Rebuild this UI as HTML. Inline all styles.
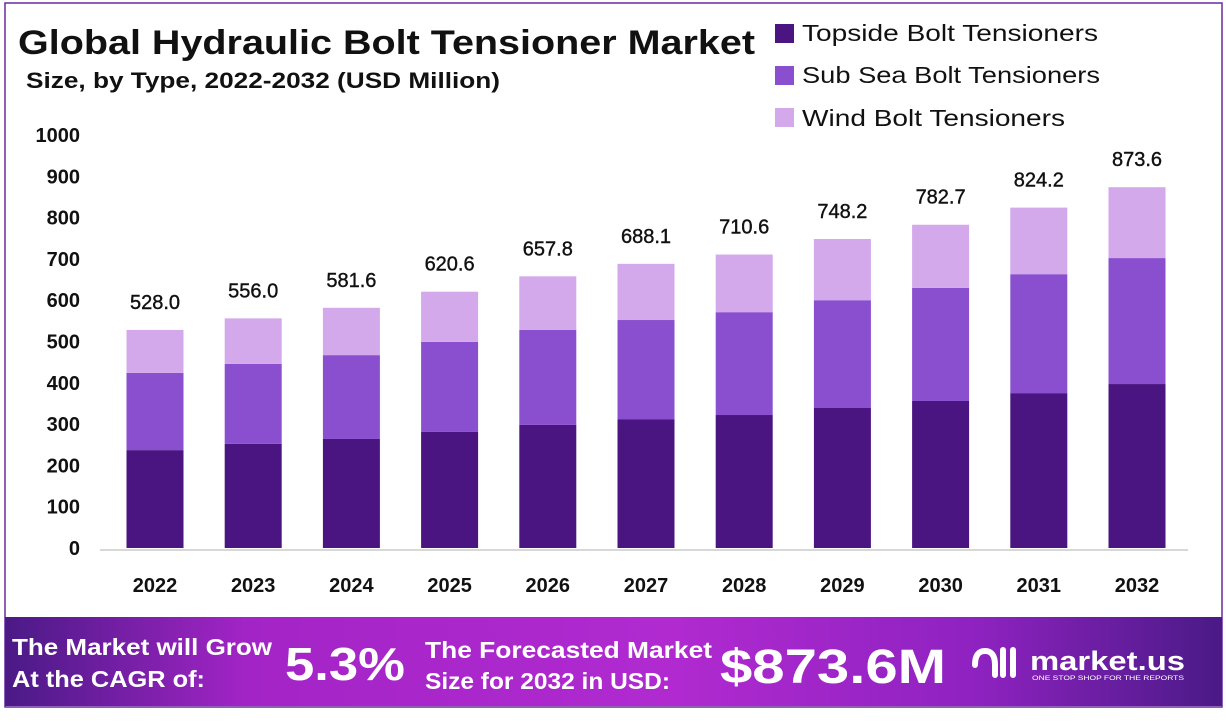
<!DOCTYPE html>
<html><head><meta charset="utf-8"><style>
html,body{margin:0;padding:0;background:#fff;}
body{width:1226px;height:718px;overflow:hidden;font-family:"Liberation Sans",sans-serif;}
text{font-family:"Liberation Sans",sans-serif;}
</style></head><body>
<svg id="c" width="1226" height="718" xmlns="http://www.w3.org/2000/svg">
<defs><linearGradient id="fg" x1="0" x2="1" y1="0" y2="0">
<stop offset="0" stop-color="#4a1a86"/><stop offset="0.2" stop-color="#a324c6"/><stop offset="0.55" stop-color="#b02ad0"/><stop offset="0.8" stop-color="#8e22c0"/><stop offset="1" stop-color="#4a1a86"/></linearGradient></defs>
<rect x="5" y="3" width="1217" height="704" fill="none" stroke="#6a2aa0" stroke-width="1.5"/>
<text x="18" y="54" font-size="34" font-weight="bold" fill="#111" textLength="737" lengthAdjust="spacingAndGlyphs">Global Hydraulic Bolt Tensioner Market</text>
<text x="26" y="88" font-size="22" fill="#111" font-weight="bold" textLength="474" lengthAdjust="spacingAndGlyphs">Size, by Type, 2022-2032 (USD Million)</text>
<g>
<rect x="775" y="24" width="19" height="19" fill="#4a1580"/>
<text x="802" y="41" font-size="23" fill="#111" textLength="296" lengthAdjust="spacingAndGlyphs">Topside Bolt Tensioners</text>
<rect x="775" y="66" width="19" height="19" fill="#8a4fcf"/>
<text x="802" y="83" font-size="23" fill="#111" textLength="298" lengthAdjust="spacingAndGlyphs">Sub Sea Bolt Tensioners</text>
<rect x="775" y="108" width="19" height="19" fill="#d3a9ec"/>
<text x="802" y="126" font-size="23" fill="#111" textLength="263" lengthAdjust="spacingAndGlyphs">Wind Bolt Tensioners</text>
</g>
<g id="plot"></g>
<rect x="5" y="617" width="1217" height="89" fill="url(#fg)"/>
<text x="12" y="655" font-size="23" font-weight="bold" fill="#fff" textLength="260" lengthAdjust="spacingAndGlyphs">The Market will Grow</text>
<text x="12" y="687" font-size="23" font-weight="bold" fill="#fff" textLength="193" lengthAdjust="spacingAndGlyphs">At the CAGR of:</text>
<text x="285" y="680" font-size="46" font-weight="bold" fill="#fff" textLength="120" lengthAdjust="spacingAndGlyphs">5.3%</text>
<text x="425" y="658" font-size="23" font-weight="bold" fill="#fff" textLength="287" lengthAdjust="spacingAndGlyphs">The Forecasted Market</text>
<text x="425" y="689" font-size="23" font-weight="bold" fill="#fff" textLength="245" lengthAdjust="spacingAndGlyphs">Size for 2032 in USD:</text>
<text x="720" y="683" font-size="48" font-weight="bold" fill="#fff" textLength="226" lengthAdjust="spacingAndGlyphs">$873.6M</text>
<g>
<path d="M975 665 q0 -14 10 -14 q10 0 10 14 v10 M1003 650 v25 M1013 650 v25" stroke="#fff" stroke-width="6" fill="none" stroke-linecap="round"/>
<text x="1030" y="670" font-size="27" font-weight="bold" fill="#fff" textLength="155" lengthAdjust="spacingAndGlyphs">market.us</text>
<text x="1032" y="680" font-size="6.5" fill="#fff" textLength="152" lengthAdjust="spacingAndGlyphs">ONE STOP SHOP FOR THE REPORTS</text>
</g>
</svg>
<script>
const years=["2022","2023","2024","2025","2026","2027","2028","2029","2030","2031","2032"];
const topside=[237,252,264,281,298,312,322,339,356,375,397];
const subsea=[187,194,203,218,230,240,249,261,274,288,305];
const totals=[528.0,556.0,581.6,620.6,657.8,688.1,710.6,748.2,782.7,824.2,873.6];
const yTicks=[0,100,200,300,400,500,600,700,800,900,1000];
const NS="http://www.w3.org/2000/svg";
const g=document.getElementById('plot');
const y0=548,yPer=0.413;
const y=v=>y0-v*yPer;
const x=i=>155+i*98.2;
const bw=57;
function mk(t,a){const e=document.createElementNS(NS,t);for(const k in a)e.setAttribute(k,a[k]);g.appendChild(e);return e;}
yTicks.forEach(t=>{const e=mk('text',{x:80,y:y(t)+7,'text-anchor':'end','font-size':20,'font-weight':'bold',fill:'#111'});e.textContent=t;

});
const ax=mk('line',{x1:100,x2:1188,y1:y0+2,y2:y0+2,stroke:'#ccc','stroke-width':1.5});


years.forEach((yr,i)=>{
const cx=x(i),l=cx-bw/2;
const wind=totals[i]-topside[i]-subsea[i];
const a=mk('rect',{x:l,y:y(topside[i]),width:bw,height:topside[i]*yPer,fill:'#4a1580'});


const b=mk('rect',{x:l,y:y(topside[i]+subsea[i]),width:bw,height:subsea[i]*yPer,fill:'#8a4fcf'});


const c=mk('rect',{x:l,y:y(totals[i]),width:bw,height:wind*yPer,fill:'#d3a9ec'});


const v=mk('text',{x:cx,y:y(totals[i])-21,'text-anchor':'middle','font-size':20,fill:'#111',stroke:'#111','stroke-width':0.4});v.textContent=totals[i].toFixed(1);


const t=mk('text',{x:cx,y:592,'text-anchor':'middle','font-size':20,'font-weight':'bold',fill:'#111'});t.textContent=yr;


});
</script>
</body></html>
